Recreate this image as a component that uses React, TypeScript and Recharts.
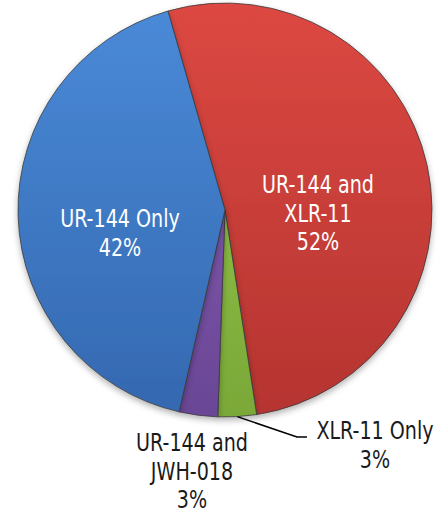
import { PieChart, Pie, Cell } from 'recharts'

// slices in clockwise order starting at the red/blue border near the top
const names = ['UR-144 and XLR-11', 'XLR-11 Only', 'UR-144 and JWH-018', 'UR-144 Only']
const values = [52, 3, 3, 42]
const labelLines = [
  ['UR-144 and', 'XLR-11', '52%'],
  ['XLR-11 Only', '3%'],
  ['UR-144 and', 'JWH-018', '3%'],
  ['UR-144 Only', '42%'],
]

const darkColors = ['#b53430', '#7aa838', '#6a4696', '#3468b0']
const lightColors = ['#dc4842', '#9ccc50', '#8a62b6', '#4a8ad8']

// label block centres relative to the pie centre (layout only)
const labelOffsets = [
  { dx: 93, dy: 2, color: '#ffffff' },
  { dx: 150, dy: 234, color: '#1a1a1a' },
  { dx: -33, dy: 260, color: '#1a1a1a' },
  { dx: -105, dy: 22, color: '#ffffff' },
]

const data = names.map((name, i) => ({ name, value: values[i] }))

const FONT = "'Liberation Sans Narrow', 'DejaVu Sans Condensed', 'Roboto', sans-serif"
const LINE_H = 28.5
const RAD = Math.PI / 180

const renderLabel = (props: any) => {
  const { cx, cy, index } = props
  const off = labelOffsets[index]
  const lines = labelLines[index]
  const x = cx + off.dx
  const top = cy + off.dy - ((lines.length - 1) * LINE_H) / 2
  return (
    <text
      key={`lbl-${index}`}
      x={x}
      y={top}
      fill={off.color}
      fontSize={25}
      fontFamily={FONT}
      textAnchor="middle"
      dominantBaseline="central"
      transform={`translate(${x},0) scale(0.85,1) translate(${-x},0)`}
    >
      {lines.map((t, k) => (
        <tspan key={k} x={x} dy={k === 0 ? 0 : LINE_H}>
          {t}
        </tspan>
      ))}
    </text>
  )
}

const renderLabelLine = (props: any) => {
  const { cx, cy, midAngle, outerRadius, index } = props
  if (index !== 1) return <g key={`ll-${index}`} />
  const sx = cx + outerRadius * Math.cos(-midAngle * RAD)
  const sy = cy + outerRadius * Math.sin(-midAngle * RAD)
  const ex = cx + 72
  const ey = cy + 227
  return (
    <polyline
      key={`ll-${index}`}
      points={`${sx},${sy} ${ex},${ey} ${ex + 10},${ey}`}
      fill="none"
      stroke="#000"
      strokeWidth={1.5}
    />
  )
}

export default function App() {
  return (
    <div style={{ position: 'absolute', left: 0, top: 0, width: 444, height: 515, background: '#fff' }}>
      <PieChart width={444} height={515} margin={{ top: 0, right: 0, bottom: 0, left: 0 }}>
        <defs>
          {lightColors.map((c, i) => (
            <linearGradient key={i} id={`grad${i}`} x1="0" y1="3" x2="0" y2="417" gradientUnits="userSpaceOnUse">
              <stop offset="0%" stopColor={c} />
              <stop offset="100%" stopColor={darkColors[i]} />
            </linearGradient>
          ))}
          <filter id="shadow" x="-10%" y="-10%" width="120%" height="120%">
            <feDropShadow dx="0" dy="3" stdDeviation="3" floodColor="#000" floodOpacity="0.3" />
          </filter>
        </defs>
        <Pie
          data={data}
          dataKey="value"
          nameKey="name"
          cx={225}
          cy={210}
          outerRadius={207}
          startAngle={106}
          endAngle={-254}
          stroke="#3a3a3a"
          strokeWidth={0.8}
          label={renderLabel}
          labelLine={renderLabelLine}
          isAnimationActive={false}
          style={{ filter: 'url(#shadow)' }}
        >
          {data.map((d, i) => (
            <Cell key={d.name} fill={`url(#grad${i})`} />
          ))}
        </Pie>
      </PieChart>
    </div>
  )
}
